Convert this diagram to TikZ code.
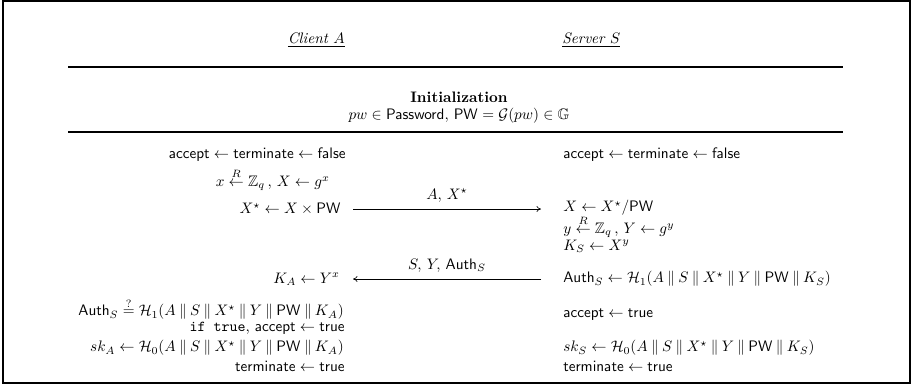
\documentclass[tikz,border=0pt]{standalone}
\usepackage{amsmath,amssymb}
\usetikzlibrary{arrows.meta,positioning}

\newcommand{\concat}{\mathbin{\|}}
\newcommand{\sampled}{\overset{R}{\leftarrow}}

\tikzset{
    frame/.style={line width=1.4pt},
    sepline/.style={line width=1.2pt},
    msg/.style={-{To[length=3pt,width=4pt]}, line width=0.4pt},
    lcol/.style={anchor=east, inner sep=0pt},
    rcol/.style={anchor=west, inner sep=0pt},
}

\begin{document}
\begin{tikzpicture}[x=0.658pt, y=-0.658pt]
    \useasboundingbox (0,0) rectangle (917,385);
    \draw[frame] (3,1) rectangle (910,383);

    % parties
    \node[lcol] (client) at (345,40) {\underline{\emph{Client $A$}}};
    \node[rcol] (server) at (562,40) {\underline{\emph{Server $S$}}};
    \draw[sepline] (68,67) -- (843,67);
    \node (init) at (459,97) {\textbf{Initialization}};
    \node[below=-3pt of init] (setup) {$pw \in \mathsf{Password},\, \mathsf{PW} = \mathcal{G}(pw) \in \mathbb{G}$};
    \draw[sepline] (68,132) -- (843,132);

    % client side
    \node[lcol] (c1) at (346,155) {$\mathsf{accept} \leftarrow \mathsf{terminate} \leftarrow \mathsf{false}$};
    \node[lcol] (c2) at (330,180) {$x \sampled \mathbb{Z}_q \,,\, X \leftarrow g^x$};
    \node[lcol] (c3) at (341,209) {$X^\star \leftarrow X \times \mathsf{PW}$};
    \node[lcol] (c4) at (340,279) {$K_A \leftarrow Y^x$};
    \node[lcol] (c5) at (344,309) {$\mathsf{Auth}_S \stackrel{?}{=} \mathcal{H}_1(A \concat S \concat X^\star \concat Y \concat \mathsf{PW} \concat K_A)$};
    \node[lcol] (c6) at (345,328) {\texttt{if true}, $\mathsf{accept} \leftarrow \mathsf{true}$};
    \node[lcol] (c7) at (344,348) {$sk_A \leftarrow \mathcal{H}_0(A \concat S \concat X^\star \concat Y \concat \mathsf{PW} \concat K_A)$};
    \node[lcol] (c8) at (345,366) {$\mathsf{terminate} \leftarrow \mathsf{true}$};

    % server side
    \node[rcol] (s1) at (563,155) {$\mathsf{accept} \leftarrow \mathsf{terminate} \leftarrow \mathsf{false}$};
    \node[rcol] (s2) at (563,208) {$X \leftarrow X^\star / \mathsf{PW}$};
    \node[rcol] (s3) at (563,227) {$y \sampled \mathbb{Z}_q \,,\, Y \leftarrow g^y$};
    \node[rcol] (s4) at (563,246) {$K_S \leftarrow X^y$};
    \node[rcol] (s5) at (563,279) {$\mathsf{Auth}_S \leftarrow \mathcal{H}_1(A \concat S \concat X^\star \concat Y \concat \mathsf{PW} \concat K_S)$};
    \node[rcol] (s6) at (563,315) {$\mathsf{accept} \leftarrow \mathsf{true}$};
    \node[rcol] (s7) at (563,348) {$sk_S \leftarrow \mathcal{H}_0(A \concat S \concat X^\star \concat Y \concat \mathsf{PW} \concat K_S)$};
    \node[rcol] (s8) at (563,366) {$\mathsf{terminate} \leftarrow \mathsf{true}$};

    % messages
    \coordinate (m1a) at (353,209);
    \coordinate (m1b) at (541,209);
    \coordinate (m2a) at (541,279);
    \coordinate (m2b) at (353,279);
    \draw[msg] (m1a) -- (m1b) node[midway, above=1pt] {$A,\, X^\star$};
    \draw[msg] (m2a) -- (m2b) node[midway, above=1pt] {$S,\, Y,\, \mathsf{Auth}_S$};
\end{tikzpicture}
\end{document}
